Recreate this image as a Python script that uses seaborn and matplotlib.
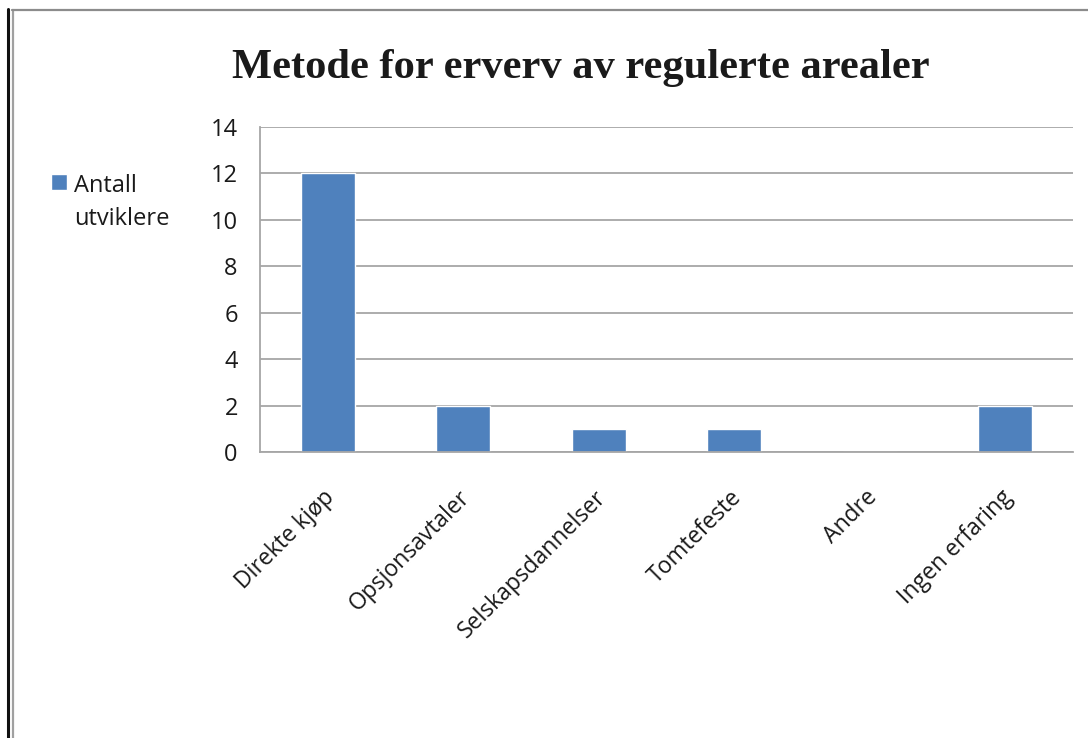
import matplotlib
matplotlib.use("Agg")
import matplotlib.pyplot as plt
from matplotlib.lines import Line2D
from matplotlib.offsetbox import HPacker
import matplotlib.transforms as mtransforms
import seaborn as sns

# Survey data
categories = ["Direkte kjøp", "Opsjonsavtaler", "Selskapsdannelser",
              "Tomtefeste", "Andre", "Ingen erfaring"]
antall = [12, 2, 1, 1, 0, 2]
series_label = "Antall\nutviklere"
title = "Metode for erverv av regulerte arealer"
y_ticks = [0, 2, 4, 6, 8, 10, 12, 14]

W, H = 1088, 738
sns.set_theme(style="white")
plt.rcParams["font.family"] = ["Open Sans", "DejaVu Sans"]

fig = plt.figure(figsize=(W / 100, H / 100), dpi=100)
ax = fig.add_axes([260 / W, 1 - 452 / H, (1073 - 260) / W, (452 - 127) / H])

sns.barplot(x=categories, y=antall, color="#4F81BD", width=0.4,
            saturation=1, label=series_label, ax=ax)

ax.set_ylim(0, 14)
ax.set_xlim(-0.5, len(categories) - 0.5)
ax.set_yticks(y_ticks)
ax.set_yticklabels([str(t) for t in y_ticks])
ax.yaxis.grid(True, color="#A6A6A6", linewidth=1.3)
ax.set_axisbelow(True)
ax.set_xlabel("")
ax.set_ylabel("")

for side in ("top", "right"):
    ax.spines[side].set_visible(False)
for side in ("left", "bottom"):
    ax.spines[side].set_color("#A6A6A6")
    ax.spines[side].set_linewidth(1.3)

ax.tick_params(axis="y", length=0, pad=16, labelsize=17, labelcolor="#1a1a1a")
ax.tick_params(axis="x", length=0, pad=24, labelsize=16.5, labelcolor="#1a1a1a")
shift = mtransforms.ScaledTranslation(-5 / 100, 0, fig.dpi_scale_trans)
for lbl in ax.get_xticklabels():
    lbl.set_rotation(45)
    lbl.set_ha("right")
    lbl.set_va("top")
    lbl.set_rotation_mode("anchor")
    lbl.set_transform(lbl.get_transform() + shift)

leg = ax.legend(loc="upper left", bbox_to_anchor=(51 / W, 1 - 174 / H),
                bbox_transform=fig.transFigure, frameon=False,
                fontsize=17, handlelength=0.68, handleheight=0.68,
                handletextpad=0.28, borderaxespad=0, borderpad=0,
                labelspacing=0.2)
for t in leg.get_texts():
    t.set_color("#1a1a1a")
    t.set_linespacing(1.5)
for hp in leg.findobj(match=HPacker):
    hp.align = "top"

fig.text(581 / W, 1 - 78 / H, title, ha="center", va="baseline",
         fontsize=30.6, fontweight="bold", family="Liberation Serif",
         color="#1a1a1a")

# Page frame lines
fig.add_artist(Line2D([8 / W, 8 / W], [0, 1 - 9 / H], color="#111111",
                      linewidth=2.2, transform=fig.transFigure))
fig.add_artist(Line2D([12.5 / W, 12.5 / W], [0, 1 - 10 / H], color="#A0A0A0",
                      linewidth=1.6, transform=fig.transFigure))
fig.add_artist(Line2D([12 / W, 1], [1 - 10 / H, 1 - 10 / H], color="#8C8C8C",
                      linewidth=1.6, transform=fig.transFigure))

fig.savefig("out.png", dpi=100, facecolor="white")
